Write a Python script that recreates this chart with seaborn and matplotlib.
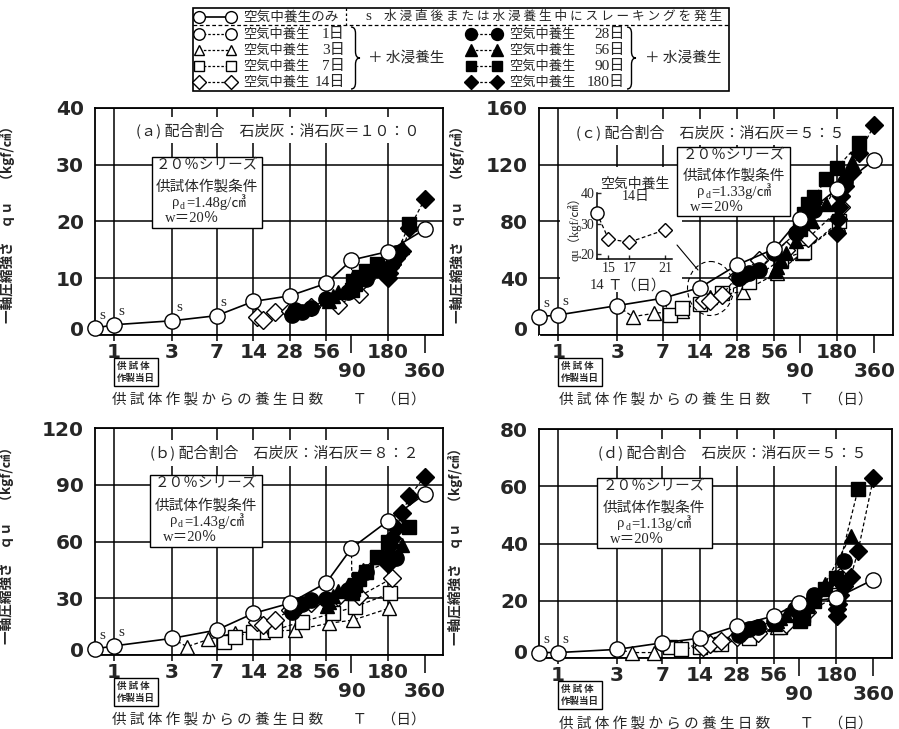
import matplotlib
matplotlib.use("Agg")
import matplotlib.pyplot as plt
import matplotlib.transforms as mtransforms
from matplotlib.patches import Rectangle, Ellipse, PathPatch
from matplotlib.path import Path
from matplotlib.ticker import NullLocator, NullFormatter
import seaborn as sns

# 養生日数 (空気中養生のみ)
AIR_ONLY_DAYS = [0, 1, 3, 7, 14, 28, 56, 90, 180, 360]
# 水浸養生日数 (空気中養生 N 日の後)
WATER_DAYS = [1, 3, 7, 14, 28, 56, 90, 180]
XTICKS = [1, 3, 7, 14, 28, 56, 90, 180, 360]
XTICK_LABELS = ["1", "3", "7", "14", "28", "56", "90", "180", "360"]
GRID_DAYS = [1, 3, 7, 14, 28, 56, 180]
DAY0_POS = 0.70  # T=0 (供試体作製当日) の表示位置

# (a) 石炭灰：消石灰 = 10:0
QU_AIR_A = [1.2, 1.8, 2.5, 3.4, 5.9, 6.9, 9.1, 13.2, 14.7, 18.6]
QU_WATER_A = {
    14: [3.2, 2.6, 4.1, 4.3, 5.0, 5.3, 7.3, 12.5],
    28: [3.6, 4.4, 4.0, 4.8, 6.3, 7.5, 9.8, 14.5],
    56: [6.5, 6.0, 6.8, 7.6, 8.6, 10.0, 11.5, 15.5],
    90: [8.0, 9.5, 9.0, 10.2, 11.2, 12.5, 11.0, 19.5],
    180: [10.0, 11.0, 12.0, 12.5, 13.5, 14.8, 18.8, 23.9],
}
SLAKE_A = [0, 1, 3, 7]

# (b) 石炭灰：消石灰 = 8:2
QU_AIR_B = [3.2, 4.8, 8.8, 13.2, 22.0, 27.4, 38.3, 56.5, 71.0, 85.2]
QU_WATER_B = {
    3: [4.4, 8.3, 11.8, 12.4, 13.2, 16.8, 18.5, 24.7],
    7: [7.0, 9.7, 12.4, 13.2, 17.6, 22.0, 25.6, 32.6],
    14: [17.6, 16.0, 18.5, 23.8, 27.4, 30.9, 31.0, 40.6],
    28: [23.0, 25.0, 27.0, 29.0, 29.5, 34.4, 44.0, 51.2],
    56: [26.0, 28.0, 31.0, 34.0, 37.0, 45.0, 52.0, 58.0],
    90: [33.0, 35.0, 37.0, 40.0, 44.0, 52.0, 60.0, 68.0],
    180: [48.0, 53.0, 58.0, 62.0, 67.0, 75.0, 84.0, 94.4],
}
SLAKE_B = [0, 1]

# (c) 石炭灰：消石灰 = 5:5 (ρd = 1.33)
QU_AIR_C = [12.9, 14.1, 20.7, 25.9, 33.4, 49.4, 60.7, 81.9, 103.0, 123.5]
QU_WATER_C = {
    3: [12.9, 15.3, 17.0, 27.0, 30.6, 43.5, 57.6, 78.0],
    7: [14.1, 19.3, 22.0, 29.4, 37.6, 53.0, 58.8, 80.0],
    14: [25.0, 24.0, 28.0, 41.0, 53.0, 60.0, 68.0, 90.0],
    28: [40.0, 42.0, 44.0, 46.0, 58.0, 72.0, 88.0, 108.0],
    56: [45.0, 48.0, 52.0, 58.0, 66.0, 80.0, 92.0, 122.0],
    90: [75.0, 79.0, 85.0, 92.0, 97.0, 110.0, 118.0, 135.0],
    180: [72.0, 82.0, 90.0, 98.0, 105.0, 115.0, 128.0, 148.0],
}
SLAKE_C = [0, 1]

# (d) 石炭灰：消石灰 = 5:5 (ρd = 1.13)
QU_AIR_D = [1.9, 1.9, 3.0, 5.3, 6.9, 11.2, 14.7, 19.3, 21.0, 27.4]
QU_WATER_D = {
    3: [1.9, 1.9, 3.7, 5.0, 8.0, 11.0, 16.0, 26.0],
    7: [4.0, 3.0, 4.0, 5.0, 7.0, 11.0, 15.0, 22.0],
    14: [4.0, 5.0, 6.0, 7.5, 8.6, 12.0, 16.0, 28.4],
    28: [8.0, 9.0, 10.0, 10.9, 13.0, 17.0, 22.0, 34.0],
    56: [12.0, 13.0, 14.0, 15.0, 18.0, 22.0, 26.0, 42.6],
    90: [13.0, 14.0, 13.8, 18.0, 20.0, 24.0, 28.0, 59.0],
    180: [14.7, 17.0, 19.0, 22.0, 25.0, 28.4, 37.3, 62.9],
}
SLAKE_D = [0, 1]

# 系列ごとのマーカー (空気中養生日数)
SERIES_MARKER = {1: "o", 3: "^", 7: "s", 14: "D", 28: "o", 56: "^", 90: "s", 180: "D"}
SERIES_FILL = {1: "white", 3: "white", 7: "white", 14: "white",
               28: "black", 56: "black", 90: "black", 180: "black"}
SERIES_SIZE = {1: 11, 3: 10, 7: 10, 14: 9, 28: 11, 56: 10.5, 90: 10, 180: 9}

JP = ["Noto Sans CJK JP", "DejaVu Sans"]
SERIF_JP = ["Liberation Serif", "Noto Sans CJK JP"]
DASH = (0, (3, 2))

sns.set_style("white")
plt.rcParams["font.family"] = JP

fig = plt.figure(figsize=(8.99, 7.29), dpi=100)
PX = fig.dpi_scale_trans


def px_offset(dx, dy):
    return mtransforms.ScaledTranslation(dx / 100, dy / 100, PX)


def draw_panel(ax, qu_air, qu_water, slake_days, title, title_xy, density,
               ymax, ystep, box):
    ax.set_xscale("log")
    ax.set_axisbelow(True)

    # 水浸養生の系列 (破線)
    for n, vals in qu_water.items():
        start = qu_air[AIR_ONLY_DAYS.index(n)]
        t = [n] + [n + w for w in WATER_DAYS]
        q = [start] + vals
        sns.lineplot(x=t, y=q, ax=ax, sort=False, estimator=None, color="black",
                     linestyle=DASH, lw=0.9, marker=SERIES_MARKER[n],
                     markersize=SERIES_SIZE[n], markerfacecolor=SERIES_FILL[n],
                     markeredgecolor="black", markeredgewidth=1.0,
                     markevery=list(range(1, len(t))), clip_on=False,
                     zorder=3 if SERIES_FILL[n] == "white" else 4)

    # 空気中養生のみ (実線)
    t_air = [DAY0_POS if d == 0 else d for d in AIR_ONLY_DAYS]
    sns.lineplot(x=t_air, y=qu_air, ax=ax, sort=False, estimator=None,
                 color="black", lw=1.2, marker="o", markersize=11,
                 markerfacecolor="white", markeredgecolor="black",
                 markeredgewidth=1.0, clip_on=False, zorder=5)

    for d in slake_days:
        i = AIR_ONLY_DAYS.index(d)
        ax.annotate("s", (t_air[i], qu_air[i]), xytext=(7, 13),
                    textcoords="offset pixels", ha="center", va="center",
                    fontsize=11, family=SERIF_JP)

    ax.set_xlim(DAY0_POS, 510)
    ax.set_ylim(0, ymax)
    for g in GRID_DAYS:
        ax.axvline(g, color="black", lw=1.1, zorder=0.6)
    ax.set_yticks(list(range(0, ymax + 1, ystep)))
    ax.grid(axis="y", color="black", lw=1.1)
    ax.set_xticks(XTICKS)
    ax.set_xticklabels(XTICK_LABELS, fontsize=14.5, fontweight="bold",
                       family="DejaVu Sans")
    ax.xaxis.set_minor_locator(NullLocator())
    ax.xaxis.set_minor_formatter(NullFormatter())
    for lbl in ax.get_yticklabels():
        lbl.set_fontsize(14.5)
        lbl.set_fontweight("bold")
        lbl.set_family("DejaVu Sans")
    ax.tick_params(axis="x", direction="out", length=4, width=1.1, pad=2,
                   color="black", bottom=True)
    ax.tick_params(axis="y", length=0, pad=8, left=True)
    for s in ax.spines.values():
        s.set_color("black")
        s.set_linewidth(1.3)
        s.set_visible(True)

    # 90, 360 は一段下げる
    ticks = ax.xaxis.get_major_ticks()
    for i in (6, 8):
        ticks[i].tick1line.set_markersize(13)
        lbl = ticks[i].label1
        lbl.set_transform(lbl.get_transform() + px_offset(0, -19))
    ylbl = ax.yaxis.get_major_ticks()[0].label1
    ylbl.set_transform(ylbl.get_transform() + px_offset(0, 6))

    ax.set_ylabel("一軸圧縮強さ　ｑｕ　（kgf/㎠）", fontsize=9.8, fontweight="bold")
    ax.set_xlabel("供 試 体 作 製 か ら の 養 生 日 数　　Ｔ　（日）", fontsize=10.5,
                  va="center")

    ax.text(title_xy[0], title_xy[1], title, transform=ax.transAxes,
            ha="center", va="center", fontsize=10.8, zorder=2,
            bbox=dict(boxstyle="square,pad=0.35", fc="white", ec="none"))

    # 供試体作製条件の枠
    x0, y0, x1, y1 = box
    ax.add_patch(Rectangle((x0, y0), x1 - x0, y1 - y0, transform=ax.transAxes,
                           fc="white", ec="black", lw=1.0, zorder=2))
    h = y1 - y0
    w = x1 - x0
    xc = (x0 + x1) / 2
    ax.text(xc, y1 - 0.12 * h, "２０％シリーズ", transform=ax.transAxes,
            ha="center", va="center", fontsize=10.5, zorder=2.5)
    ax.text(xc, y1 - 0.42 * h, "供試体作製条件", transform=ax.transAxes,
            ha="center", va="center", fontsize=10.5, zorder=2.5)
    yr = y1 - 0.64 * h
    xr = x0 + 0.18 * w
    ax.annotate("ρ", (xr, yr), xycoords="axes fraction", ha="left", va="center",
                fontsize=10.5, family=SERIF_JP, zorder=2.5)
    ax.annotate("d", (xr, yr), xycoords="axes fraction", xytext=(8, -4),
                textcoords="offset pixels", ha="left", va="center",
                fontsize=7, family=SERIF_JP, zorder=2.5)
    ax.annotate("=" + density + "g/㎤", (xr, yr), xycoords="axes fraction",
                xytext=(14, 0), textcoords="offset pixels", ha="left",
                va="center", fontsize=10.5, family=SERIF_JP, zorder=2.5)
    ax.text(x0 + 0.12 * w, y1 - 0.87 * h, "w＝20％", transform=ax.transAxes,
            ha="left", va="center", fontsize=10.5, family=SERIF_JP, zorder=2.5)

    # 供試体作製当日
    ax.annotate("供 試 体\n作製当日", xy=(DAY0_POS, 0),
                xycoords=("data", "axes fraction"), xytext=(22, -37),
                textcoords="offset pixels", ha="left", va="center",
                fontsize=6.8, fontweight="bold", linespacing=1.3,
                annotation_clip=False,
                bbox=dict(boxstyle="square,pad=0.3", fc="white", ec="black",
                          lw=1.0),
                arrowprops=dict(arrowstyle="-", shrinkA=0, shrinkB=0, lw=1.0,
                                relpos=(0, 0.5),
                                connectionstyle="angle,angleA=0,angleB=90,rad=0"))


ax_a = fig.add_axes([0.1057, 0.5405, 0.3871, 0.3114])
ax_c = fig.add_axes([0.5996, 0.5405, 0.3938, 0.3114])
ax_b = fig.add_axes([0.1057, 0.1015, 0.3871, 0.3110])
ax_d = fig.add_axes([0.5996, 0.0974, 0.3927, 0.3141])

draw_panel(ax_a, QU_AIR_A, QU_WATER_A, SLAKE_A,
           "(ａ) 配合割合　石炭灰：消石灰＝１０：０", (0.526, 0.903), "1.48",
           40, 10, (0.164, 0.471, 0.480, 0.784))
draw_panel(ax_c, QU_AIR_C, QU_WATER_C, SLAKE_C,
           "(ｃ) 配合割合　石炭灰：消石灰＝５：５", (0.483, 0.894), "1.33",
           160, 40, (0.389, 0.522, 0.709, 0.830))
draw_panel(ax_b, QU_AIR_B, QU_WATER_B, SLAKE_B,
           "(ｂ) 配合割合　石炭灰：消石灰＝８：２", (0.543, 0.892), "1.43",
           120, 30, (0.158, 0.478, 0.479, 0.794))
draw_panel(ax_d, QU_AIR_D, QU_WATER_D, SLAKE_D,
           "(ｄ) 配合割合　石炭灰：消石灰＝５：５", (0.547, 0.897), "1.13",
           80, 20, (0.163, 0.479, 0.489, 0.785))

for ax, lx in ((ax_a, -0.23), (ax_c, -0.209), (ax_b, -0.233), (ax_d, -0.215)):
    ax.yaxis.set_label_coords(lx, 0.5)
    ax.xaxis.set_label_coords(0.5, -0.285)

# (c) の挿入図: 空気中養生 14日
ax_c.add_patch(Rectangle((560 / 899, 1 - 292 / 729), 122 / 899, 125 / 729,
                         transform=fig.transFigure, fc="white", ec="none",
                         zorder=1.2))
ins = fig.add_axes([0.664, 0.6447, 0.0834, 0.0905])
ins.set_facecolor("none")
inset_t = [14] + [14 + w for w in WATER_DAYS[:3]]
inset_q = [QU_AIR_C[AIR_ONLY_DAYS.index(14)]] + QU_WATER_C[14][:3]
sns.lineplot(x=inset_t, y=inset_q, ax=ins, sort=False, estimator=None,
             color="black", linestyle=DASH, lw=0.9, marker="D", markersize=7,
             markerfacecolor="white", markeredgecolor="black",
             markeredgewidth=1.0, markevery=[1, 2, 3], clip_on=False)
ins.plot(inset_t[:1], inset_q[:1], marker="o", markersize=9.5, color="black",
         mfc="white", mew=1.0, clip_on=False, zorder=5)
ins.set_xscale("log")
ins.set_xlim(14, 21.9)
ins.set_ylim(18.5, 40)
ins.xaxis.set_minor_locator(NullLocator())
ins.xaxis.set_minor_formatter(NullFormatter())
ins.set_xticks([15, 17, 21])
ins.set_xticklabels(["15", "17", "21"], fontsize=10, family=SERIF_JP)
ins.set_yticks([20, 30, 40])
ins.set_yticklabels(["20", "30", "40"], fontsize=10, family=SERIF_JP)
ins.tick_params(direction="in", length=3, width=1, pad=2, bottom=True, left=True)
for side in ("top", "right"):
    ins.spines[side].set_visible(False)
for side in ("left", "bottom"):
    ins.spines[side].set_color("black")
    ins.spines[side].set_linewidth(1.1)
ins.grid(False)
ins.set_xlabel("")
ins.set_ylabel("")
ins.text(0.0, -0.40, "14", transform=ins.transAxes, ha="center", va="center",
         fontsize=10.5, family=SERIF_JP)
ins.text(0.53, -0.40, "Ｔ（日）", transform=ins.transAxes, ha="center",
         va="center", fontsize=10.5, family=SERIF_JP)
ins.text(-0.30, 0.5, "qu（kgf/㎠）", transform=ins.transAxes, ha="center",
         va="center", rotation=90, fontsize=9, family=SERIF_JP)
ins.text(0.51, 1.14, "空気中養生", transform=ins.transAxes, ha="center",
         va="center", fontsize=10)
ins.text(0.51, 0.94, "14日", transform=ins.transAxes, ha="center",
         va="center", fontsize=10, family=SERIF_JP)

# 上部の凡例と注記 (ピクセル座標)
ov = fig.add_axes([0, 0, 1, 1], zorder=20)
ov.set_xlim(0, 899)
ov.set_ylim(729, 0)
ov.axis("off")
ov.set_facecolor("none")

ov.plot([677, 698], [245, 270], color="black", lw=0.8)
ov.add_patch(Ellipse((710.5, 288.5), 46, 54, fc="none", ec="black", lw=0.8,
                     linestyle=(0, (4, 3))))

ov.add_patch(Rectangle((193, 8), 536, 83, fc="white", ec="black", lw=1.2))
ov.plot([193, 729], [25, 25], color="black", lw=0.9, linestyle=(0, (3, 2)))
ov.plot([346, 346], [8, 25], color="black", lw=0.9, linestyle=(0, (2, 2)))
ov.plot([198.5, 230.5], [16.5, 16.5], color="black", lw=1.2, marker="o",
        markersize=8.5, mfc="white", mew=1.0)
ov.text(243, 16.5, "空気中養生のみ", ha="left", va="center", fontsize=9.8)
ov.text(368, 16, "s", ha="center", va="center", fontsize=11, family=SERIF_JP)
ov.text(384, 16.5, " ".join("水浸直後または水浸養生中にスレーキングを発生"),
        ha="left", va="center", fontsize=9.1)

ROW_Y = [34, 50, 66, 82]


def brace(x, y0, y1, w):
    ym = (y0 + y1) / 2
    xm = x + w / 2
    c = w * 0.7
    verts = [(x, y0), (xm, y0), (xm, y0 + c), (xm, ym - c), (xm, ym),
             (x + w, ym), (xm, ym), (xm, ym + c), (xm, y1 - c), (xm, y1),
             (x, y1)]
    codes = [Path.MOVETO, Path.CURVE3, Path.CURVE3, Path.LINETO, Path.CURVE3,
             Path.CURVE3, Path.CURVE3, Path.CURVE3, Path.LINETO, Path.CURVE3,
             Path.CURVE3]
    ov.add_patch(PathPatch(Path(verts, codes), fc="none", ec="black", lw=1.0))


for y, n in zip(ROW_Y, [1, 3, 7, 14]):
    ov.plot([198.5, 230.5], [y, y], color="black", lw=0.9, linestyle=(0, (2, 1.5)),
            marker=SERIES_MARKER[n], markersize=SERIES_SIZE[n] * 0.75,
            mfc="white", mew=1.0)
    ov.text(243, y, "空気中養生", ha="left", va="center", fontsize=9.5)
    ov.text(345, y, f"{n}日", ha="right", va="center", fontsize=11,
            family=SERIF_JP)
for y, n in zip(ROW_Y, [28, 56, 90, 180]):
    ov.plot([470.5, 497], [y, y], color="black", lw=0.9, linestyle=(0, (2, 1.5)),
            marker=SERIES_MARKER[n], markersize=SERIES_SIZE[n] * 0.78,
            mfc="black", mew=1.0)
    ov.text(509, y, "空気中養生", ha="left", va="center", fontsize=9.5)
    ov.text(625, y, f"{n}日", ha="right", va="center", fontsize=11,
            family=SERIF_JP)
brace(351, 27, 89, 9)
brace(627, 27, 89, 9)
ov.text(368, 58, "＋ 水浸養生", ha="left", va="center", fontsize=10.5)
ov.text(645, 58, "＋ 水浸養生", ha="left", va="center", fontsize=10.5)

fig.savefig("out.png", dpi=100)
